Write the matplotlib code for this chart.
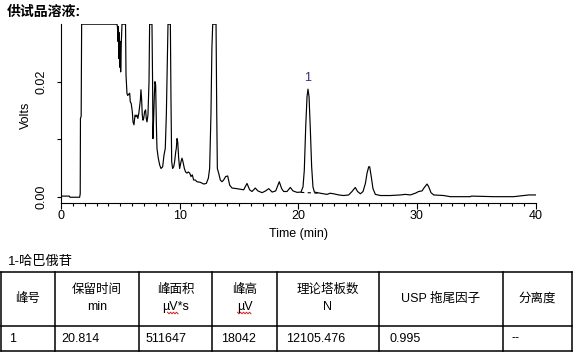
import numpy as np
import matplotlib
matplotlib.use("Agg")
import matplotlib.pyplot as plt

plt.rcParams['font.family'] = ['Liberation Sans', 'Noto Sans CJK SC']

# chromatogram trace (time in min, signal in volts)
time_min = [0.0, 0.7, 0.75, 1.57, 1.62, 1.64, 1.70, 1.74, 4.72, 4.76, 4.80, 4.84,
            4.88, 4.92, 4.96, 5.00, 5.03, 5.08, 5.14, 5.44, 5.48, 5.56, 5.62, 5.70,
            5.79, 5.84, 5.92, 6.01, 6.07, 6.15, 6.24, 6.32, 6.40, 6.48, 6.56, 6.69,
            6.74, 6.80, 6.85, 6.91, 6.97, 7.05, 7.13, 7.19, 7.25, 7.33, 7.42, 7.47,
            7.67, 7.72, 7.75, 7.81, 7.87, 7.92, 7.98, 8.04, 8.09, 8.20, 8.32, 8.43,
            8.57, 8.68, 8.79, 8.88, 8.93, 9.02, 9.22, 9.27, 9.33, 9.41, 9.50, 9.58,
            9.67, 9.72, 9.78, 9.84, 9.92, 10.00, 10.12, 10.20, 10.28, 10.40, 10.50,
            10.62, 10.73, 10.85, 10.96, 11.07, 11.18, 11.32, 11.46, 11.74, 12.03,
            12.25, 12.42, 12.53, 12.64, 12.72, 12.79, 13.07, 13.13, 13.18, 13.29,
            13.43, 13.57, 13.71, 13.88, 14.05, 14.22, 14.42, 14.80, 15.40, 15.68,
            15.90, 16.10, 16.38, 16.60, 16.95, 17.25, 17.51, 17.80, 18.10, 18.40,
            18.60, 18.77, 19.05, 19.33, 19.56, 19.90, 20.23, 20.40, 20.51, 20.63,
            20.74, 20.82, 20.91, 21.02, 21.13, 21.24, 21.36, 21.86, 22.42, 22.70,
            22.99, 23.41, 23.83, 24.25, 24.53, 24.81, 25.00, 25.24, 25.46, 25.66,
            25.80, 25.94, 26.02, 26.13, 26.30, 26.50, 26.92, 27.76, 28.60, 29.03,
            29.45, 29.87, 30.15, 30.43, 30.63, 30.86, 31.00, 31.19, 31.42, 32.26,
            32.82, 34.50, 34.60, 36.48, 38.16, 39.43, 40.00]
volts = [0.0001, 0.0001, -0.0001, -0.0001, 0.0005, 0.0136, 0.0140, 0.0300, 0.0300, 0.0295, 0.0270, 0.0296,
         0.0240, 0.0285, 0.0225, 0.0270, 0.0217, 0.0265, 0.0300, 0.0300, 0.0212, 0.0180, 0.0176, 0.0178,
         0.0180, 0.0165, 0.0162, 0.0148, 0.0130, 0.0125, 0.0142, 0.0139, 0.0142, 0.0136, 0.0145, 0.0168,
         0.0186, 0.0168, 0.0142, 0.0133, 0.0136, 0.0148, 0.0151, 0.0136, 0.0130, 0.0142, 0.0200, 0.0300,
         0.0300, 0.0200, 0.0101, 0.0136, 0.0177, 0.0200, 0.0194, 0.0125, 0.0084, 0.0067, 0.0055, 0.0049,
         0.0052, 0.0072, 0.0084, 0.0142, 0.0200, 0.0300, 0.0300, 0.0171, 0.0061, 0.0049, 0.0052, 0.0061,
         0.0078, 0.0084, 0.0101, 0.0095, 0.0067, 0.0049, 0.0061, 0.0067, 0.0061, 0.0049, 0.0043,
         0.0041, 0.0043, 0.0041, 0.0035, 0.0038, 0.0029, 0.0029, 0.0026, 0.0025, 0.0022,
         0.0023, 0.0032, 0.0049, 0.0142, 0.0258, 0.0300, 0.0300, 0.0142, 0.0049, 0.0041,
         0.0029, 0.0026, 0.0029, 0.0035, 0.0036, 0.0020, 0.0015, 0.0014, 0.0012, 0.0023,
         0.0012, 0.0009, 0.0015, 0.0010, 0.0007, 0.0010, 0.0014, 0.0008, 0.0010, 0.0026,
         0.0014, 0.0009, 0.0009, 0.0016, 0.0010, 0.00075, 0.0008, 0.0017, 0.0046, 0.0122,
         0.0174, 0.0187, 0.0174, 0.0116, 0.0052, 0.0017, 0.0008, 0.0006, 0.0004, 0.0006,
         0.0005, 0.0003, 0.0002, 0.0003, 0.0009, 0.0016, 0.0009, 0.0005, 0.0009, 0.0023,
         0.0041, 0.0052, 0.0052, 0.0038, 0.0014, 0.0004, 0.0002, 0.0002, 0.0003, 0.0004,
         0.0003, 0.0006, 0.0009, 0.0010, 0.0016, 0.0022, 0.0017, 0.0007, 0.0003, 0.0002,
         0.0000, 0.0000, 0.0001, 0.0000, 0.0000, 0.0003, 0.0003]

# integration baseline of peak 1
base_t = [20.23, 21.75]
base_v = [0.00075, 0.0006]

peak_names = ['1']
peak_rt = [20.814]
peak_top = [0.0187]

# result table
compound = '1-哈巴俄苷'
headers = [('峰号', None), ('保留时间', 'min'), ('峰面积', 'µV*s'), ('峰高', 'µV'),
           ('理论塔板数', 'N'), ('USP 拖尾因子', None), ('分离度', None)]
row = ['1', '20.814', '511647', '18042', '12105.476', '0.995', '--']

W, H = 578, 358
fig = plt.figure(figsize=(W / 100, H / 100), dpi=100)

# chromatogram axes (pixel box 61..535.5 x 23.6..203)
ax = fig.add_axes([61 / W, (H - 203) / H, 474.5 / W, 179.4 / H])
ax.plot(time_min, volts, color='black', lw=0.85)
ax.plot(base_t, base_v, color='black', lw=0.8, ls=(0, (3, 3)))
for name, rt, top in zip(peak_names, peak_rt, peak_top):
    ax.annotate(name, (rt, top), xytext=(0, 3.5), textcoords='offset points',
                ha='center', va='bottom', fontsize=9, color='#3a2a7a')
ax.set_xlim(0, 40)
ax.set_ylim(-0.0011, 0.0301)
for s in ['top', 'right']:
    ax.spines[s].set_visible(False)
for s in ['left', 'bottom']:
    ax.spines[s].set_linewidth(0.8)
ax.set_xticks([0, 10, 20, 30, 40])
ax.set_xticks(np.arange(0, 41, 1), minor=True)
ax.set_yticks([0, 0.01, 0.02], labels=['0.00', '', '0.02'])
ax.tick_params(axis='x', which='major', length=4.3, width=0.8, pad=1, labelsize=9)
ax.tick_params(axis='x', which='minor', length=2.2, width=0.8)
ax.tick_params(axis='y', which='major', length=3, width=0.8, pad=7, labelsize=9)
for lbl in ax.get_yticklabels():
    lbl.set_rotation(90)
    lbl.set_va('center')
ax.set_xlabel('Time (min)', fontsize=9, labelpad=4)
ax.set_ylabel('Volts', fontsize=9)
ax.yaxis.set_label_coords(-0.062, 0.49)

# overlay in pixel coordinates for title and table
ov = fig.add_axes([0, 0, 1, 1])
ov.set_xlim(0, W)
ov.set_ylim(H, 0)
ov.axis('off')
ov.patch.set_alpha(0)

ov.text(7, 12, '供试品溶液:', fontsize=10, fontweight='bold', ha='left', va='center')
ov.text(8, 262, compound, fontsize=9.5, ha='left', va='center')

col_x = [1, 55, 139, 212, 277, 379, 503, 572]
row_y = [272, 326, 351]
for y in row_y:
    ov.plot([col_x[0], col_x[-1]], [y, y], color='black', lw=1.1, solid_capstyle='projecting')
for x in col_x:
    ov.plot([x, x], [row_y[0], row_y[-1]], color='black', lw=1.1, solid_capstyle='projecting')

for i, (top, unit) in enumerate(headers):
    cx = (col_x[i] + col_x[i + 1]) / 2
    if unit is None:
        ov.text(cx, 299, top, fontsize=9, ha='center', va='center')
    else:
        ov.text(cx, 290, top, fontsize=9, ha='center', va='center')
        ov.text(cx, 307, unit, fontsize=9, ha='center', va='center')
        if unit.startswith('µV'):
            # spell-check squiggle under µV
            xs = np.arange(cx - 8, cx + 4, 1.5)
            if unit == 'µV':
                xs = np.arange(cx - 7, cx + 8, 1.5)
            ys = 313 + np.where(np.arange(len(xs)) % 2 == 0, -0.8, 0.8)
            ov.plot(xs, ys, color='#d02020', lw=0.7)

pad = [8, 6, 7, 9, 9, 11, 8]
for i, val in enumerate(row):
    ov.text(col_x[i] + pad[i], 338.5, val, fontsize=9, ha='left', va='center')

fig.savefig('out.png', dpi=100)
